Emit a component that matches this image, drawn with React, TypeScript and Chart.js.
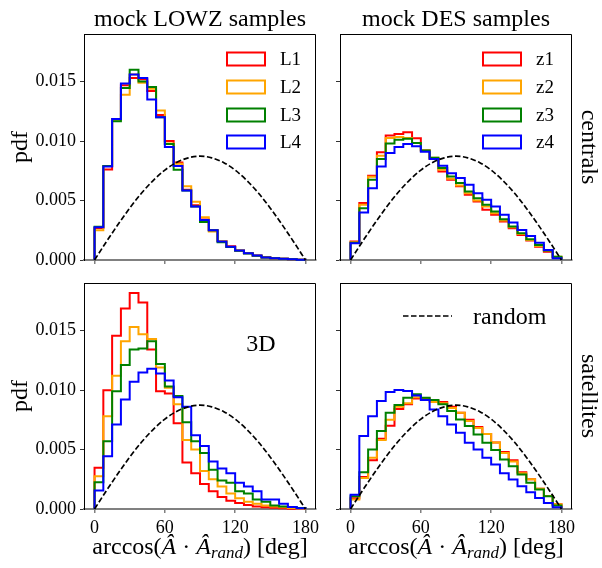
import React, { useEffect, useRef } from "react";
import { Chart, registerables } from "chart.js";

Chart.register(...registerables);

// ---------------- data ----------------
const BIN_EDGES = [0, 7.5, 15, 22.5, 30, 37.5, 45, 52.5, 60, 67.5, 75, 82.5, 90, 97.5, 105, 112.5, 120, 127.5, 135, 142.5, 150, 157.5, 165, 172.5, 180];
const X_TICKS = [0, 60, 120, 180];
const Y_TICKS = [0, 0.005, 0.01, 0.015];

const RANDOM_X = [0, 10, 20, 30, 40, 50, 60, 70, 80, 90, 100, 110, 120, 130, 140, 150, 160, 170, 180];
const RANDOM_PDF = [0, 0.00152, 0.00298, 0.00436, 0.00561, 0.00668, 0.00756, 0.0082, 0.00859, 0.00873, 0.00859, 0.0082, 0.00756, 0.00668, 0.00561, 0.00436, 0.00298, 0.00152, 0];

// mock LOWZ, centrals
const LOWZ_CEN_L1 = [0.0027, 0.0076, 0.01186, 0.0147, 0.0153, 0.0152, 0.0142, 0.0122, 0.0100, 0.0082, 0.0059, 0.0046, 0.0034, 0.0025, 0.0016, 0.00115, 0.0008, 0.00058, 0.00037, 0.00024, 0.00015, 0.0001, 0.00006, 0.00003];
const LOWZ_CEN_L2 = [0.0025, 0.0079, 0.0118, 0.0139, 0.0156, 0.0149, 0.0144, 0.01256, 0.0098, 0.0081, 0.0062, 0.0049, 0.0036, 0.0024, 0.0016, 0.0011, 0.0008, 0.00056, 0.00036, 0.00022, 0.00014, 0.0001, 0.00006, 0.00003];
const LOWZ_CEN_L3 = [0.0028, 0.0079, 0.01166, 0.01447, 0.016, 0.015, 0.01455, 0.012, 0.00975, 0.00759, 0.00585, 0.0045, 0.0032, 0.0025, 0.0015, 0.0011, 0.00078, 0.00055, 0.00036, 0.00022, 0.00014, 0.0001, 0.00006, 0.00003];
const LOWZ_CEN_L4 = [0.00275, 0.00787, 0.01186, 0.01484, 0.0156, 0.0153, 0.0135, 0.012, 0.0095, 0.0079, 0.00585, 0.0045, 0.00337, 0.0025, 0.00155, 0.00112, 0.00079, 0.00056, 0.00037, 0.00022, 0.00014, 0.00011, 0.00006, 0.00003];

// mock DES, centrals
const DES_CEN_Z1 = [0.00155, 0.0048, 0.00708, 0.00905, 0.01046, 0.0106, 0.01074, 0.01023, 0.0092, 0.0085, 0.00745, 0.00675, 0.00619, 0.00548, 0.00492, 0.00422, 0.0038, 0.00323, 0.00267, 0.00211, 0.00163, 0.00112, 0.0007, 0.0002];
const DES_CEN_Z2 = [0.0015, 0.00465, 0.007, 0.00877, 0.01026, 0.01034, 0.01026, 0.00984, 0.0092, 0.0086, 0.00759, 0.00683, 0.00627, 0.00562, 0.005, 0.0045, 0.00393, 0.00332, 0.00275, 0.00219, 0.00169, 0.00118, 0.00079, 0.00028];
const DES_CEN_Z3 = [0.00146, 0.00435, 0.00675, 0.0085, 0.0098, 0.0101, 0.0102, 0.00984, 0.0092, 0.0086, 0.00773, 0.00703, 0.00647, 0.00576, 0.0052, 0.00464, 0.00408, 0.00343, 0.00281, 0.00225, 0.00174, 0.00126, 0.00079, 0.00028];
const DES_CEN_Z4 = [0.0014, 0.004, 0.00604, 0.00787, 0.009, 0.0095, 0.00975, 0.00956, 0.0091, 0.0085, 0.00793, 0.0073, 0.00689, 0.00633, 0.00562, 0.00506, 0.0045, 0.0038, 0.00315, 0.00253, 0.00202, 0.00146, 0.00084, 0.00014];

// mock LOWZ, satellites (3D)
const LOWZ_SAT_L1 = [0.00346, 0.00998, 0.01456, 0.01686, 0.01815, 0.01737, 0.0134, 0.0099, 0.0097, 0.0072, 0.0039, 0.003, 0.0021, 0.0015, 0.001, 0.0007, 0.0005, 0.00034, 0.00022, 0.00014, 0.0001, 0.00006, 0.00003, 0.00003];
const LOWZ_SAT_L2 = [0.00275, 0.0078, 0.0112, 0.0141, 0.0153, 0.0147, 0.0143, 0.0119, 0.0102, 0.0088, 0.0058, 0.005, 0.0032, 0.0025, 0.0019, 0.0013, 0.0009, 0.0006, 0.00045, 0.0003, 0.00022, 0.00014, 0.00008, 0.00003];
const LOWZ_SAT_L3 = [0.00224, 0.0057, 0.0099, 0.0121, 0.0134, 0.0135, 0.0141, 0.0122, 0.0103, 0.0095, 0.0073, 0.0057, 0.0047, 0.0033, 0.0024, 0.0022, 0.0015, 0.0013, 0.0008, 0.0006, 0.0003, 0.00022, 0.00017, 0.00008];
const LOWZ_SAT_L4 = [0.00155, 0.00444, 0.0071, 0.0092, 0.0107, 0.01147, 0.0118, 0.0114, 0.0108, 0.0094, 0.0086, 0.0062, 0.0053, 0.004, 0.0034, 0.003, 0.0022, 0.0019, 0.0015, 0.0008, 0.0008, 0.00045, 0.00017, 0.00006];

// mock DES, satellites
const DES_SAT_Z1 = [0.0009, 0.0027, 0.0041, 0.0059, 0.007, 0.0084, 0.0088, 0.0093, 0.0093, 0.0091, 0.009, 0.0086, 0.0081, 0.0075, 0.0069, 0.0063, 0.0056, 0.0048, 0.0041, 0.0031, 0.0025, 0.0017, 0.0011, 0.0004];
const DES_SAT_Z2 = [0.0008, 0.0026, 0.0043, 0.0058, 0.0075, 0.0086, 0.0089, 0.0094, 0.0092, 0.009, 0.0089, 0.0085, 0.0081, 0.0074, 0.0068, 0.0063, 0.0056, 0.0047, 0.004, 0.003, 0.0025, 0.0017, 0.0011, 0.0004];
const DES_SAT_Z3 = [0.00107, 0.0031, 0.005, 0.00655, 0.0081, 0.00874, 0.00936, 0.00964, 0.00936, 0.00916, 0.0088, 0.00823, 0.00753, 0.00697, 0.00627, 0.00556, 0.00495, 0.00416, 0.0036, 0.0029, 0.0022, 0.00163, 0.00107, 0.0003];
const DES_SAT_Z4 = [0.0012, 0.00613, 0.0078, 0.00908, 0.00984, 0.01, 0.00992, 0.00955, 0.00916, 0.00837, 0.0078, 0.0071, 0.0064, 0.00556, 0.005, 0.0043, 0.00374, 0.003, 0.00247, 0.00191, 0.0014, 0.00093, 0.0005, 0.00014];

const LOWZ_LABELS = ["L1", "L2", "L3", "L4"];
const DES_LABELS = ["z1", "z2", "z3", "z4"];
const COLORS = ["#ff0000", "#ffa500", "#008000", "#0000ff"];

// ---------------- layout ----------------
const W = 602;
const H = 568;
const FONT = "'Liberation Serif', 'Times New Roman', serif";
const YW = 50;
const XH = 30;
const X_MIN = -9;
const X_MAX = 189;
const Y_MAX = 0.019;

type Panel = {
  left: number; right: number; top: number; bottom: number;
  showX: boolean; showY: boolean;
  series: number[][]; labels: string[];
  legend: "hist" | "random" | "none";
  extra: (ctx: CanvasRenderingContext2D) => void;
};

function drawXLabel(ctx: CanvasRenderingContext2D, cx: number, baseline: number) {
  const big = 24;
  const parts: { t: string; f: string; dy: number }[] = [
    { t: "arccos(", f: `${big}px ${FONT}`, dy: 0 },
    { t: "Â", f: `italic ${big}px ${FONT}`, dy: 0 },
    { t: " · ", f: `${big}px ${FONT}`, dy: 0 },
    { t: "Â", f: `italic ${big}px ${FONT}`, dy: 0 },
    { t: "rand", f: `italic 17px ${FONT}`, dy: 4 },
    { t: ") [deg]", f: `${big}px ${FONT}`, dy: 0 },
  ];
  let total = 0;
  const widths = parts.map((p) => { ctx.font = p.f; const w = ctx.measureText(p.t).width; total += w; return w; });
  let x = cx - total / 2;
  ctx.fillStyle = "#000";
  ctx.textAlign = "left";
  ctx.textBaseline = "alphabetic";
  parts.forEach((p, i) => { ctx.font = p.f; ctx.fillText(p.t, x, baseline + p.dy); x += widths[i]; });
}

function rotText(ctx: CanvasRenderingContext2D, text: string, x: number, y: number, angle: number, size: number) {
  ctx.save();
  ctx.translate(x, y);
  ctx.rotate(angle);
  ctx.font = `${size}px ${FONT}`;
  ctx.fillStyle = "#000";
  ctx.textAlign = "center";
  ctx.textBaseline = "middle";
  ctx.fillText(text, 0, 0);
  ctx.restore();
}

function centerText(ctx: CanvasRenderingContext2D, text: string, x: number, y: number, size: number) {
  ctx.font = `${size}px ${FONT}`;
  ctx.fillStyle = "#000";
  ctx.textAlign = "center";
  ctx.textBaseline = "alphabetic";
  ctx.fillText(text, x, y);
}

const PANELS: Panel[] = [
  {
    left: 84, right: 316, top: 34, bottom: 260, showX: false, showY: true,
    series: [LOWZ_CEN_L1, LOWZ_CEN_L2, LOWZ_CEN_L3, LOWZ_CEN_L4], labels: LOWZ_LABELS, legend: "hist",
    extra: (ctx) => {
      centerText(ctx, "mock LOWZ samples", 200, 26, 24);
      rotText(ctx, "pdf", 21, 147, -Math.PI / 2, 24);
    },
  },
  {
    left: 340, right: 572, top: 34, bottom: 260, showX: false, showY: false,
    series: [DES_CEN_Z1, DES_CEN_Z2, DES_CEN_Z3, DES_CEN_Z4], labels: DES_LABELS, legend: "hist",
    extra: (ctx) => {
      centerText(ctx, "mock DES samples", 456, 26, 24);
      rotText(ctx, "centrals", 588, 147, Math.PI / 2, 24);
    },
  },
  {
    left: 84, right: 316, top: 283, bottom: 509, showX: true, showY: true,
    series: [LOWZ_SAT_L1, LOWZ_SAT_L2, LOWZ_SAT_L3, LOWZ_SAT_L4], labels: LOWZ_LABELS, legend: "none",
    extra: (ctx) => {
      centerText(ctx, "3D", 261, 351, 24);
      rotText(ctx, "pdf", 21, 396, -Math.PI / 2, 24);
      drawXLabel(ctx, 200, 554);
    },
  },
  {
    left: 340, right: 572, top: 283, bottom: 509, showX: true, showY: false,
    series: [DES_SAT_Z1, DES_SAT_Z2, DES_SAT_Z3, DES_SAT_Z4], labels: DES_LABELS, legend: "random",
    extra: (ctx) => {
      rotText(ctx, "satellites", 588, 396, Math.PI / 2, 24);
      drawXLabel(ctx, 456, 554);
    },
  },
];

function histPoints(values: number[]) {
  const pts = [{ x: BIN_EDGES[0], y: 0 }];
  values.forEach((v, i) => pts.push({ x: BIN_EDGES[i], y: v }));
  pts.push({ x: BIN_EDGES[BIN_EDGES.length - 1], y: values[values.length - 1] });
  pts.push({ x: BIN_EDGES[BIN_EDGES.length - 1], y: 0 });
  return pts;
}

function makeConfig(p: Panel): any {
  const datasets: any[] = [
    {
      label: "random",
      data: RANDOM_X.map((x, i) => ({ x, y: RANDOM_PDF[i] })),
      borderColor: "#000",
      borderWidth: 1.7,
      borderDash: [5.5, 2.5],
      pointRadius: 0,
      cubicInterpolationMode: "monotone",
      fill: false,
      order: 0,
      clip: false,
    },
  ];
  p.series.forEach((s, i) => {
    datasets.push({
      label: p.labels[i],
      data: histPoints(s),
      borderColor: COLORS[i],
      borderWidth: 2,
      stepped: "before",
      pointRadius: 0,
      fill: false,
      order: 4 - i,
      clip: false,
    });
  });

  const framePlugin = {
    id: "frame" + p.left + p.top,
    afterDraw(chart: any) {
      const ctx: CanvasRenderingContext2D = chart.ctx;
      const a = chart.chartArea;
      ctx.save();
      ctx.strokeStyle = "#000";
      ctx.lineWidth = 1;
      ctx.beginPath();
      ctx.moveTo(a.left + 0.5, a.bottom);
      ctx.lineTo(a.left + 0.5, a.top + 0.5);
      ctx.lineTo(a.right - 0.5, a.top + 0.5);
      ctx.lineTo(a.right - 0.5, a.bottom);
      ctx.stroke();

      if (p.legend === "hist") {
        const bx = p.left + 143;
        const ys = [59, 87, 115, 142];
        p.labels.forEach((lab, i) => {
          ctx.strokeStyle = COLORS[i];
          ctx.lineWidth = 2;
          ctx.strokeRect(bx, ys[i] - 6.5, 38, 13);
          ctx.font = `19px ${FONT}`;
          ctx.fillStyle = "#000";
          ctx.textAlign = "left";
          ctx.textBaseline = "middle";
          ctx.fillText(lab, bx + 53, ys[i] + 1);
        });
      } else if (p.legend === "random") {
        ctx.strokeStyle = "#000";
        ctx.lineWidth = 1.7;
        ctx.setLineDash([5.5, 2.5]);
        ctx.beginPath();
        ctx.moveTo(403, 316);
        ctx.lineTo(452, 316);
        ctx.stroke();
        ctx.setLineDash([]);
        ctx.font = `24px ${FONT}`;
        ctx.fillStyle = "#000";
        ctx.textAlign = "left";
        ctx.textBaseline = "alphabetic";
        ctx.fillText("random", 473, 324);
      }
      p.extra(ctx);
      ctx.restore();
    },
  };

  return {
    type: "line",
    data: { datasets },
    plugins: [framePlugin],
    options: {
      responsive: false,
      animation: false,
      devicePixelRatio: 1,
      events: [],
      layout: {
        padding: { left: p.left - YW, top: p.top, right: W - p.right, bottom: H - p.bottom - XH },
      },
      plugins: { legend: { display: false }, tooltip: { enabled: false }, title: { display: false } },
      scales: {
        x: {
          type: "linear",
          min: X_MIN,
          max: X_MAX,
          afterBuildTicks: (s: any) => { s.ticks = X_TICKS.map((v) => ({ value: v })); },
          afterFit: (s: any) => { s.height = XH; },
          grid: { drawOnChartArea: false, drawTicks: true, tickLength: 4, color: "#808080", lineWidth: 1.5 },
          border: { display: true, color: "#808080", width: 2 },
          ticks: {
            display: p.showX,
            color: "#000",
            padding: 4,
            maxRotation: 0,
            font: { family: FONT, size: 18 },
            callback: (v: any) => String(v),
          },
        },
        y: {
          type: "linear",
          min: 0,
          max: Y_MAX,
          afterBuildTicks: (s: any) => { s.ticks = Y_TICKS.map((v) => ({ value: v })); },
          afterFit: (s: any) => { s.width = YW; },
          grid: { drawOnChartArea: false, drawTicks: true, tickLength: 4, color: "#333", lineWidth: 1 },
          border: { display: true, color: "#000", width: 1 },
          ticks: {
            display: p.showY,
            color: "#000",
            padding: 4,
            font: { family: FONT, size: 18 },
            callback: (v: any) => Number(v).toFixed(3),
          },
        },
      },
    },
  };
}

export default function App() {
  const refs = useRef<(HTMLCanvasElement | null)[]>([]);
  useEffect(() => {
    const charts = PANELS.map((p, i) => new Chart(refs.current[i] as HTMLCanvasElement, makeConfig(p)));
    return () => charts.forEach((c) => c.destroy());
  }, []);
  return (
    <div style={{ position: "absolute", left: 0, top: 0, width: W, height: H, background: "#fff", overflow: "hidden" }}>
      {PANELS.map((_, i) => (
        <canvas
          key={i}
          ref={(el) => { refs.current[i] = el; }}
          width={W}
          height={H}
          style={{ position: "absolute", left: 0, top: 0, width: W, height: H }}
        />
      ))}
    </div>
  );
}
